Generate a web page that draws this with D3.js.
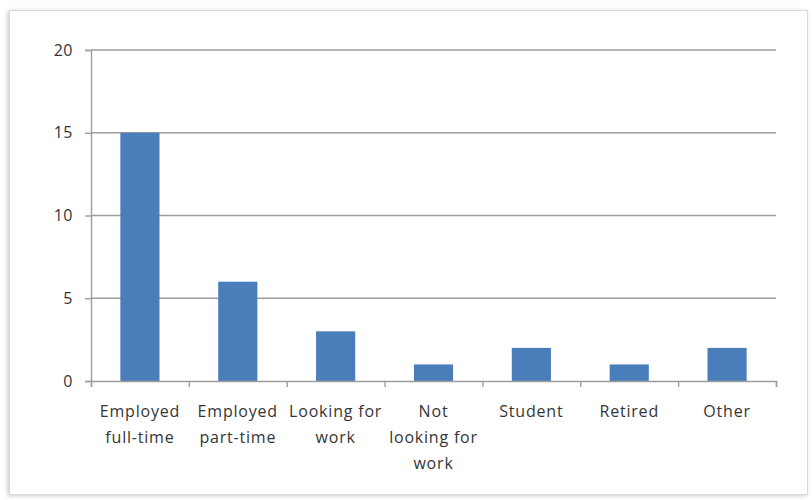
<!DOCTYPE html>
<html>
<head>
<meta charset="utf-8">
<script src="https://cdn.jsdelivr.net/npm/d3@7"></script>
<style>
  html, body { margin: 0; padding: 0; background: #ffffff; }
  svg { display: block; }
  text { font-family: "Open Sans", sans-serif; fill: #353535; }
</style>
</head>
<body>
<svg id="chart" width="812" height="500"></svg>
<script>
const categories = [
  ["Employed", "full-time"],
  ["Employed", "part-time"],
  ["Looking for", "work"],
  ["Not", "looking for", "work"],
  ["Student"],
  ["Retired"],
  ["Other"]
];
const values = [15, 6, 3, 1, 2, 1, 2];
const yTicks = [0, 5, 10, 15, 20];

const svg = d3.select("#chart");
const plotLeft = 91, plotRight = 776, plotTop = 50, plotBottom = 381;

const defs = svg.append("defs");
const f = defs.append("filter").attr("id", "shadow").attr("x", "-5%").attr("y", "-5%").attr("width", "110%").attr("height", "110%");
f.append("feDropShadow").attr("dx", -1.5).attr("dy", 1).attr("stdDeviation", 2).attr("flood-color", "#000").attr("flood-opacity", 0.2);

svg.append("rect")
  .attr("x", 9.5).attr("y", 10.5).attr("width", 798).attr("height", 484)
  .attr("fill", "#fff").attr("stroke", "#dadada").attr("stroke-width", 1)
  .attr("filter", "url(#shadow)");

const ids = categories.map((d, i) => i);
const x = d3.scaleBand().domain(ids).range([plotLeft, plotRight]).paddingInner(0.6).paddingOuter(0.3);
const y = d3.scaleLinear().domain([0, 20]).range([plotBottom, plotTop]);
const xb = d3.scaleLinear().domain([0, categories.length]).range([plotLeft, plotRight]);

// gridlines
svg.append("g").selectAll("line").data(yTicks.filter(t => t > 0)).join("line")
  .attr("x1", plotLeft).attr("x2", plotRight)
  .attr("y1", d => y(d)).attr("y2", d => y(d))
  .attr("stroke", "#9d9d9d").attr("stroke-width", 1.4);

// bars
svg.append("g").selectAll("rect").data(values).join("rect")
  .attr("x", (d, i) => x(i))
  .attr("width", x.bandwidth())
  .attr("y", d => y(d))
  .attr("height", d => y(0) - y(d))
  .attr("fill", "#4a7ebb");

// y axis
const yAxis = svg.append("g").attr("transform", `translate(${plotLeft},0)`)
  .call(d3.axisLeft(y).tickValues(yTicks).tickSize(6).tickPadding(12));
yAxis.selectAll("path, line").attr("stroke", "#9d9d9d").attr("stroke-width", 1.4);
yAxis.selectAll("text").attr("font-size", 16).attr("font-family", "Open Sans, sans-serif").attr("fill", "#353535").attr("letter-spacing", "0.5px");

// x axis boundaries
const xAxis = svg.append("g").attr("transform", `translate(0,${plotBottom})`)
  .call(d3.axisBottom(xb).tickValues(d3.range(0, categories.length + 1)).tickSize(6).tickFormat(""));
xAxis.selectAll("path, line").attr("stroke", "#9d9d9d").attr("stroke-width", 1.4);

// category labels
const lab = svg.append("g").selectAll("text").data(categories).join("text")
  .attr("text-anchor", "middle")
  .attr("font-size", 16)
  .attr("letter-spacing", "0.8px")
  .attr("transform", (d, i) => `translate(${x(i) + x.bandwidth() / 2},417)`);
lab.selectAll("tspan").data(d => d).join("tspan")
  .attr("x", 0).attr("y", (d, i) => i * 26)
  .text(d => d);
</script>
</body>
</html>
